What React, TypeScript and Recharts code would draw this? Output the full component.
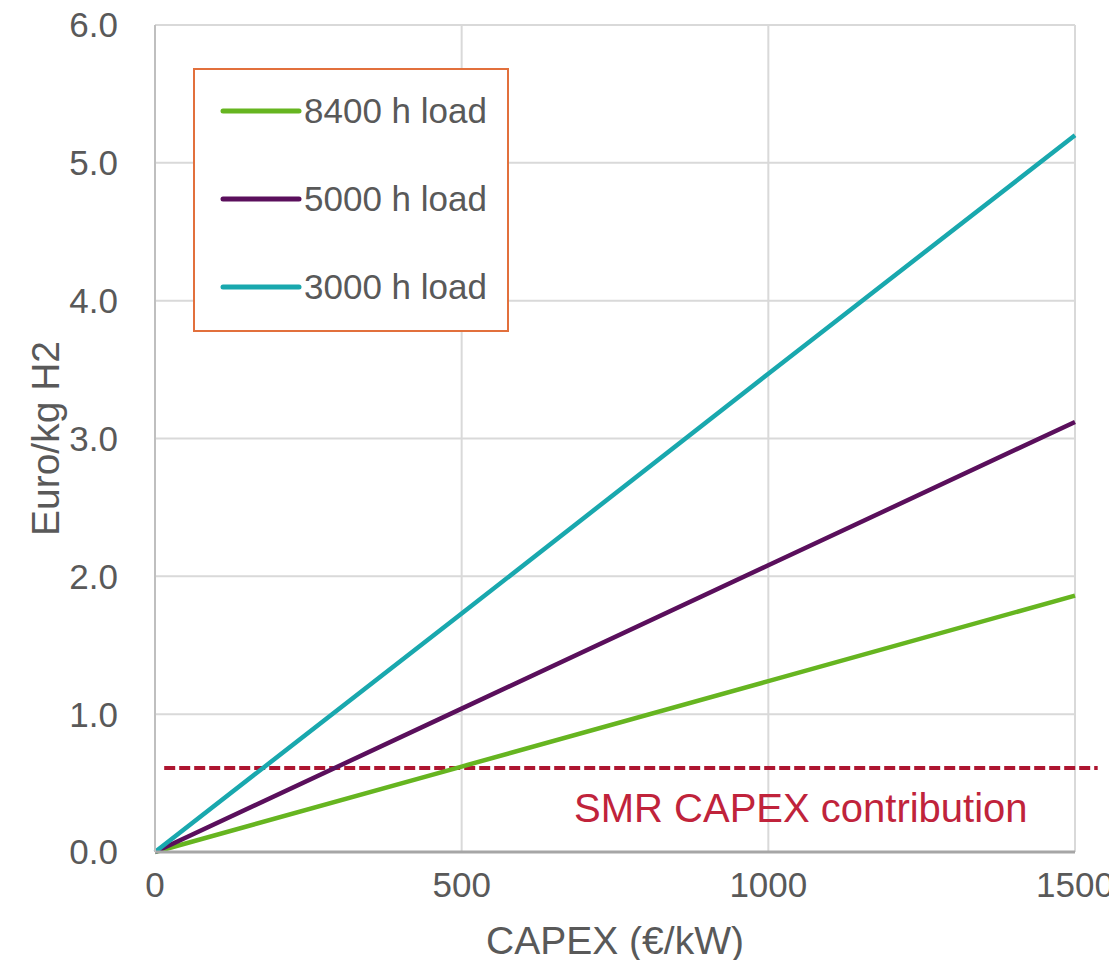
import React from "react";
import {
  CartesianGrid,
  Label,
  Legend,
  Line,
  LineChart,
  ReferenceDot,
  ReferenceLine,
  XAxis,
  YAxis,
} from "recharts";

// CAPEX (€/kW) sample points and resulting Euro/kg H2 per load case
const capex = [0, 500, 1000, 1500];
const load8400 = [0, 0.62, 1.24, 1.86];
const load5000 = [0, 1.04, 2.08, 3.12];
const load3000 = [0, 1.73, 3.47, 5.2];

const xTicks = [0, 500, 1000, 1500];
const yTicks = [0, 1, 2, 3, 4, 5, 6];

const smrLevel = 0.61;
const smrSpan = [15, 1537];

const SERIES = [
  { key: "l8400", name: "8400 h load", color: "#66b520" },
  { key: "l5000", name: "5000 h load", color: "#5a0f5c" },
  { key: "l3000", name: "3000 h load", color: "#19a8ae" },
];

const data = capex.map((c, i) => ({
  capex: c,
  l8400: load8400[i],
  l5000: load5000[i],
  l3000: load3000[i],
}));

const GRAY = "#595959";

function LegendBox() {
  return (
    <div
      style={{
        width: 316,
        height: 264,
        boxSizing: "border-box",
        border: "2px solid #e2703c",
        background: "#fff",
        position: "relative",
      }}
    >
      {SERIES.map((s, i) => (
        <div
          key={s.key}
          style={{
            position: "absolute",
            left: 25,
            top: 41 + i * 88 - 20,
            height: 40,
            display: "flex",
            alignItems: "center",
          }}
        >
          <svg width={82} height={10} style={{ display: "block" }}>
            <line
              x1={3}
              y1={5}
              x2={79}
              y2={5}
              stroke={s.color}
              strokeWidth={5}
              strokeLinecap="round"
            />
          </svg>
          <span style={{ fontSize: 35, color: GRAY, marginLeft: 2, whiteSpace: "nowrap" }}>
            {s.name}
          </span>
        </div>
      ))}
    </div>
  );
}

export default function App() {
  return (
    <div
      style={{
        width: 1117,
        height: 968,
        margin: -8,
        fontFamily: "'Liberation Sans', Arial, sans-serif",
      }}
    >
      <LineChart
        width={1117}
        height={968}
        data={data}
        margin={{ top: 25, right: 42, bottom: 16, left: 0 }}
      >
        <CartesianGrid stroke="#d9d9d9" strokeWidth={2} />
        <XAxis
          dataKey="capex"
          type="number"
          domain={[0, 1500]}
          ticks={xTicks}
          height={100}
          tickSize={0}
          tickMargin={20}
          tickLine={false}
          axisLine={{ stroke: "#a6a6a6", strokeWidth: 3 }}
          tick={{ fill: GRAY, fontSize: 35 }}
        >
          <Label
            content={({ viewBox }: any) => (
              <text
                x={viewBox.x + viewBox.width / 2}
                y={viewBox.y + 88}
                textAnchor="middle"
                dominantBaseline="central"
                fill={GRAY}
                fontSize={39}
              >
                CAPEX (€/kW)
              </text>
            )}
          />
        </XAxis>
        <YAxis
          type="number"
          domain={[0, 6]}
          ticks={yTicks}
          width={155}
          tickSize={0}
          tickMargin={37}
          tickLine={false}
          tickFormatter={(v: number) => v.toFixed(1)}
          axisLine={{ stroke: "#bfbfbf", strokeWidth: 2 }}
          tick={{ fill: GRAY, fontSize: 35 }}
        >
          <Label
            content={({ viewBox }: any) => {
              const cx = viewBox.x + 45;
              const cy = viewBox.y + viewBox.height / 2;
              return (
                <text
                  x={cx}
                  y={cy}
                  transform={`rotate(-90 ${cx} ${cy})`}
                  textAnchor="middle"
                  dominantBaseline="central"
                  fill={GRAY}
                  fontSize={39}
                >
                  Euro/kg H2
                </text>
              );
            }}
          />
        </YAxis>
        <ReferenceLine
          segment={[
            { x: smrSpan[0], y: smrLevel },
            { x: smrSpan[1], y: smrLevel },
          ]}
          ifOverflow="visible"
          stroke="#ad1530"
          strokeWidth={4}
          strokeDasharray="11 4"
        />
        <ReferenceDot
          x={1053}
          y={0.32}
          r={0}
          fill="none"
          stroke="none"
          ifOverflow="visible"
          label={{ value: "SMR CAPEX contribution", position: "center", fill: "#c0233b", fontSize: 40 }}
        />
        {SERIES.map((s) => (
          <Line
            key={s.key}
            type="linear"
            dataKey={s.key}
            name={s.name}
            stroke={s.color}
            strokeWidth={4.5}
            dot={false}
            activeDot={false}
            isAnimationActive={false}
          />
        ))}
        <Legend
          layout="vertical"
          align="center"
          verticalAlign="middle"
          content={() => <LegendBox />}
          wrapperStyle={{ left: 193, top: 68, width: 316, height: 264, bottom: "auto", right: "auto" }}
        />
      </LineChart>
    </div>
  );
}
